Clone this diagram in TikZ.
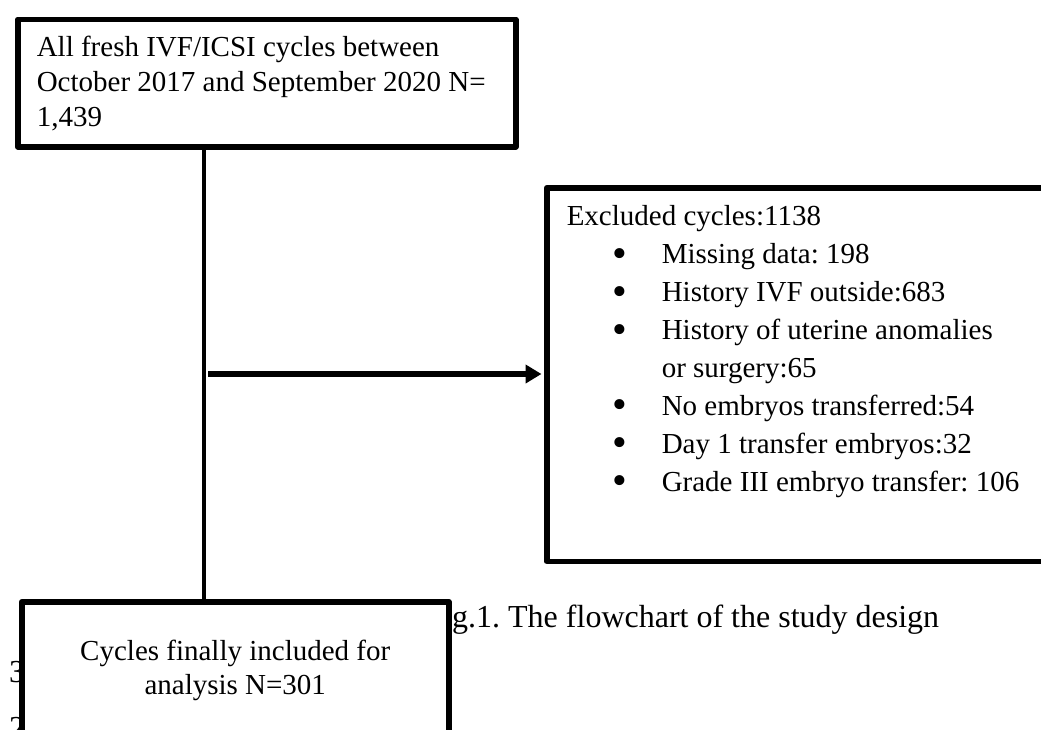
\documentclass[tikz,border=0pt]{standalone}
\usepackage{fontspec}
\usepackage{graphicx}
\setmainfont{Liberation Serif}
\frenchspacing
\usetikzlibrary{arrows.meta}
\newcommand{\bulitem}{\hspace*{45.75pt}\makebox[49.25pt][l]{\raisebox{-3.6pt}{\scalebox{1.45}{\textbullet}}}}
\tikzset{
  boxstyle/.style={draw=black, line width=5.5pt, fill=white, align=flush left, line join=round,
    font=\fontsize{29pt}{35pt}\selectfont},
  flowline/.style={draw=black, line width=4pt},
  flowarrow/.style={draw=black, line width=5.5pt, -{Triangle[length=16pt,width=18pt]}},
  pagetext/.style={font=\fontsize{32pt}{38pt}\selectfont, inner sep=0pt},
}
\begin{document}
\begin{tikzpicture}[x=1pt,y=-1pt]
\useasboundingbox (0,0) rectangle (1041,729);
\clip (0,0) rectangle (1041,729);
\fill[white] (0,0) rectangle (1041,729);
% page text lying under the boxes
\node[pagetext, anchor=base west] (caption) at (425.3,627) {Fig.1. The flowchart of the study design};
\node[pagetext, anchor=base west] (lnthree) at (9,682) {3};
\node[pagetext, anchor=base west] (lntwo) at (9,738) {2};
% boxes
\node[boxstyle, anchor=north west, inner xsep=19pt, inner ysep=17.5pt, text width=460pt,
  text height=20pt, text depth=72.5pt] (start) at (15,16.5)
  {All fresh IVF/ICSI cycles between\\ October 2017 and September 2020 N=\\ 1,439};
\node[boxstyle, anchor=north west, inner xsep=20pt, inner ysep=18pt, text width=496pt,
  text height=20pt, text depth=317.5pt, font=\fontsize{29pt}{37.9pt}\selectfont] (excl) at (544,185)
  {Excluded cycles:1138\\
   \bulitem Missing data: 198\\
   \bulitem History IVF outside:683\\
   \bulitem History of uterine anomalies\\
   \hspace*{95pt}or surgery:65\\
   \bulitem No embryos transferred:54\\
   \bulitem Day 1 transfer embryos:32\\
   \bulitem Grade III embryo transfer: 106};
\node[boxstyle, align=flush center, anchor=north west, inner xsep=10pt, inner ysep=10pt, text width=407pt,
  text height=49pt, text depth=92pt, font=\fontsize{29pt}{34pt}\selectfont] (final) at (19,599)
  {Cycles finally included for\\ analysis N=301};
% connectors
\coordinate (trunk) at (204,374);
\coordinate (branch) at (208,374);
\draw[flowline] (start.south -| trunk) -- (final.north -| trunk);
\draw[flowarrow, shorten >=2.5pt] (branch) -- (excl.west |- branch);
\end{tikzpicture}
\end{document}
